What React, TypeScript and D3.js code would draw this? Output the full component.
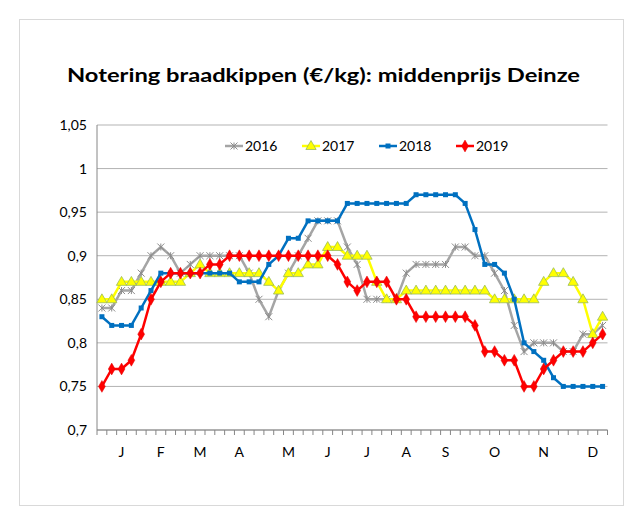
import * as d3 from "d3";

const W = 642;
const H = 519;

const weeks = d3.range(52);
const monthLabels = ["J", "F", "M", "A", "M", "J", "J", "A", "S", "O", "N", "D"];
const monthWeeks = [2, 6, 10, 14, 19, 23, 27, 31, 35, 40, 45, 50];
const yTicks = [0.7, 0.75, 0.8, 0.85, 0.9, 0.95, 1, 1.05];

const s2016 = [0.84, 0.84, 0.86, 0.86, 0.88, 0.90, 0.91, 0.90, 0.88, 0.89, 0.90, 0.90, 0.90, 0.90, 0.90, 0.88, 0.85, 0.83, 0.86, 0.88, 0.90, 0.92, 0.94, 0.94, 0.94, 0.91, 0.89, 0.85, 0.85, 0.85, 0.85, 0.88, 0.89, 0.89, 0.89, 0.89, 0.91, 0.91, 0.90, 0.90, 0.88, 0.86, 0.82, 0.79, 0.80, 0.80, 0.80, 0.79, 0.79, 0.81, 0.81, 0.82];
const s2017 = [0.85, 0.85, 0.87, 0.87, 0.87, 0.87, 0.87, 0.87, 0.87, 0.88, 0.89, 0.88, 0.88, 0.88, 0.88, 0.88, 0.88, 0.87, 0.86, 0.88, 0.88, 0.89, 0.89, 0.91, 0.91, 0.90, 0.90, 0.90, 0.87, 0.85, 0.85, 0.86, 0.86, 0.86, 0.86, 0.86, 0.86, 0.86, 0.86, 0.86, 0.85, 0.85, 0.85, 0.85, 0.85, 0.87, 0.88, 0.88, 0.87, 0.85, 0.81, 0.83];
const s2018 = [0.83, 0.82, 0.82, 0.82, 0.84, 0.86, 0.88, 0.88, 0.88, 0.88, 0.88, 0.88, 0.88, 0.88, 0.87, 0.87, 0.87, 0.89, 0.90, 0.92, 0.92, 0.94, 0.94, 0.94, 0.94, 0.96, 0.96, 0.96, 0.96, 0.96, 0.96, 0.96, 0.97, 0.97, 0.97, 0.97, 0.97, 0.96, 0.93, 0.89, 0.89, 0.88, 0.85, 0.80, 0.79, 0.78, 0.76, 0.75, 0.75, 0.75, 0.75, 0.75];
const s2019 = [0.75, 0.77, 0.77, 0.78, 0.81, 0.85, 0.87, 0.88, 0.88, 0.88, 0.88, 0.89, 0.89, 0.90, 0.90, 0.90, 0.90, 0.90, 0.90, 0.90, 0.90, 0.90, 0.90, 0.90, 0.89, 0.87, 0.86, 0.87, 0.87, 0.87, 0.85, 0.85, 0.83, 0.83, 0.83, 0.83, 0.83, 0.83, 0.82, 0.79, 0.79, 0.78, 0.78, 0.75, 0.75, 0.77, 0.78, 0.79, 0.79, 0.79, 0.80, 0.81];

const series = [
  { name: "2016", values: s2016, color: "#a5a5a5", marker: "star" },
  { name: "2017", values: s2017, color: "#ffff00", marker: "triangle" },
  { name: "2018", values: s2018, color: "#0070c0", marker: "square" },
  { name: "2019", values: s2019, color: "#ff0000", marker: "diamond" },
];

const plot = { left: 97, right: 607.5, top: 125, bottom: 430 };
const font = "Lato, 'Liberation Sans', Arial, sans-serif";

const Marker = ({ type, x, y, color }) => {
  if (type === "star") {
    const r = 3.5;
    return (
      <g stroke="#8c8c8c" strokeWidth={1}>
        <line x1={x - r} y1={y - r} x2={x + r} y2={y + r} />
        <line x1={x - r} y1={y + r} x2={x + r} y2={y - r} />
        <line x1={x} y1={y - r} x2={x} y2={y + r} />
      </g>
    );
  }
  if (type === "triangle") {
    const p = d3.symbol(d3.symbolTriangle, 46)();
    return <path d={p} transform={`translate(${x},${y + 0.5})`} fill="#ffff00" stroke="#9bbb59" strokeWidth={0.8} />;
  }
  if (type === "square") {
    return <rect x={x - 2.5} y={y - 2.5} width={5} height={5} fill={color} />;
  }
  const p = d3.symbol(d3.symbolDiamond, 40)();
  return <path d={p} transform={`translate(${x},${y})`} fill={color} stroke="#e00000" strokeWidth={0.5} />;
};

const App = () => {
  const xScale = d3.scaleBand().domain(weeks).range([plot.left, plot.right]);
  const xc = (i) => xScale(i) + xScale.bandwidth() / 2;
  const yScale = d3.scaleLinear().domain([0.7, 1.05]).range([plot.bottom, plot.top]);
  const fmt = (v) => d3.format("")(+v.toFixed(2)).replace(".", ",");

  const lineGen = d3.line()
    .x((d, i) => xc(i))
    .y((d) => yScale(d));

  const legendX = [225, 302, 379, 456];

  return (
    <svg width={W} height={H} style={{ position: "absolute", left: 0, top: 0, background: "#fff" }}>
      <rect x={19.5} y={19.5} width={604} height={486} fill="#fff" stroke="#d9d9d9" />
      <text x={323.5} y={82} textAnchor="middle" fontFamily={font} fontWeight="bold" fontSize={19}
        textLength={513} lengthAdjust="spacingAndGlyphs" fill="#000">
        Notering braadkippen (€/kg): middenprijs Deinze
      </text>

      {/* grid + y labels */}
      {yTicks.map((t) => (
        <g key={t}>
          <line x1={plot.left} x2={plot.right} y1={yScale(t)} y2={yScale(t)} stroke="#b3b3b3" strokeWidth={1} />
          <text x={87} y={yScale(t) + 5} textAnchor="end" fontFamily={font} fontSize={14} fill="#000">{fmt(t)}</text>
        </g>
      ))}
      <line x1={plot.left} x2={plot.left} y1={plot.top} y2={plot.bottom} stroke="#868686" />
      <line x1={plot.left} x2={plot.right} y1={plot.bottom} y2={plot.bottom} stroke="#868686" />
      {weeks.concat([52]).map((i) => {
        const x = i < 52 ? xScale(i) : plot.right;
        return <line key={i} x1={x} x2={x} y1={plot.bottom} y2={plot.bottom + 5} stroke="#868686" />;
      })}
      {monthWeeks.map((w, k) => (
        <text key={k} x={xc(w)} y={457} textAnchor="middle" fontFamily={font} fontSize={14} fill="#000">{monthLabels[k]}</text>
      ))}

      {/* series */}
      {series.map((s) => (
        <g key={s.name}>
          <path d={lineGen(s.values)} fill="none" stroke={s.color} strokeWidth={2.5} strokeLinejoin="round" />
          {s.values.map((v, i) => (
            <Marker key={i} type={s.marker} x={xc(i)} y={yScale(v)} color={s.color} />
          ))}
        </g>
      ))}

      {/* legend */}
      {series.map((s, k) => (
        <g key={s.name}>
          <line x1={legendX[k]} x2={legendX[k] + 18} y1={146} y2={146} stroke={s.color} strokeWidth={2.5} />
          <Marker type={s.marker} x={legendX[k] + 9} y={146} color={s.color} />
          <text x={legendX[k] + 20} y={151} fontFamily={font} fontSize={14} fill="#000">{s.name}</text>
        </g>
      ))}
    </svg>
  );
};

export default App;
